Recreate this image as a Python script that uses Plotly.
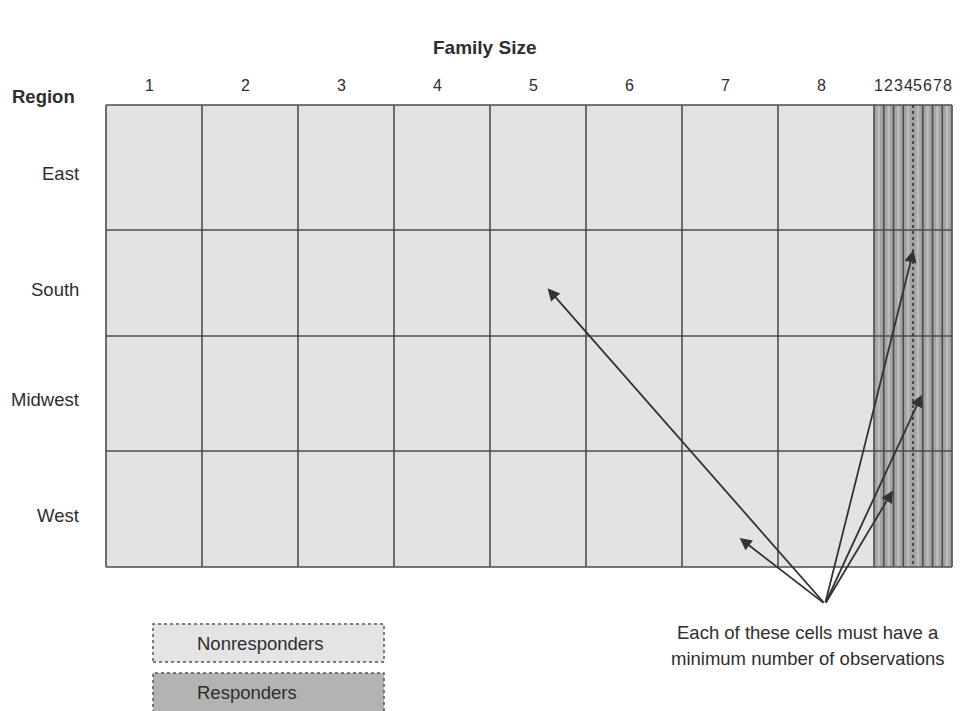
import plotly.graph_objects as go

# ---------------- data ----------------
regions = ["East", "South", "Midwest", "West"]
family_sizes = [1, 2, 3, 4, 5, 6, 7, 8]
groups = ["Nonresponders", "Responders"]
# cells that the note points at: (region, group, family size)
arrow_targets = [
    ("South", "Nonresponders", 5),
    ("West", "Nonresponders", 7),
    ("South", "Responders", 5),
    ("Midwest", "Responders", 5),
    ("West", "Responders", 2),
]
note_lines = ["Each of these cells must have a", "minimum number of observations"]

# ---------------- layout constants ----------------
W, H = 963, 711
PX = 96.0                 # pixels per nonresponder column
GRID_L, GRID_T = 106, 105 # grid origin in pixels
RESP_W = 0.1016           # width of a responder column (in column units)
ROW_EDGES = [0, 125, 231, 346, 462]   # row boundaries (vertical units)
TIP_OFFSETS = [(0.60, 0.55), (0.60, 0.75), (0.05, 0.19), (0.90, 0.51), (0.95, 0.34)]
ARROW_ORIGIN = (7.49, 499)
FONT = "Liberation Sans, Arial, sans-serif"
TXT = "#2e2e2e"
LINE = "#4d4d4d"
FS = 18.5

n = len(family_sizes)
x_edges = [float(i) for i in range(n + 1)] + [n + (i + 1) * RESP_W for i in range(n)]
col_centers_non = [i + 0.5 for i in range(n)]
col_centers_resp = [n + (i + 0.5) * RESP_W for i in range(n)]

z = [[0] * n + [1] * n for _ in regions]

fig = go.Figure()
fig.add_trace(go.Heatmap(
    x=x_edges, y=ROW_EDGES, z=z,
    colorscale=[[0, "#e3e3e3"], [1, "#a4a4a4"]], zmin=0, zmax=1,
    showscale=False, hoverinfo="skip",
))

# light stripes inside responder columns
sx, sy = [], []
for c in col_centers_resp:
    sx += [c, c, None]
    sy += [ROW_EDGES[0], ROW_EDGES[-1], None]
fig.add_trace(go.Scatter(x=sx, y=sy, mode="lines",
                         line=dict(color="#bcbcbc", width=2.5), hoverinfo="skip", showlegend=False))

# grid lines
vx, vy = [], []
dot_x = n + 4 * RESP_W
for e in x_edges:
    if abs(e - dot_x) < 1e-9:
        continue
    vx += [e, e, None]
    vy += [ROW_EDGES[0], ROW_EDGES[-1], None]
for r in ROW_EDGES:
    vx += [x_edges[0], x_edges[-1], None]
    vy += [r, r, None]
fig.add_trace(go.Scatter(x=vx, y=vy, mode="lines",
                         line=dict(color=LINE, width=1.6), hoverinfo="skip", showlegend=False))
fig.add_trace(go.Scatter(x=[dot_x, dot_x], y=[ROW_EDGES[0], ROW_EDGES[-1]], mode="lines",
                         line=dict(color="#333333", width=1.6, dash="dot"),
                         hoverinfo="skip", showlegend=False))

ann = []
# column labels
for c, s in zip(col_centers_non, family_sizes):
    ann.append(dict(x=c - 0.05, y=-20, text=str(s), showarrow=False,
                    xanchor="center", yanchor="middle",
                    font=dict(size=16, color=TXT, family=FONT)))
for c, s in zip(col_centers_resp, family_sizes):
    ann.append(dict(x=c, y=-20, text=str(s), showarrow=False,
                    xanchor="center", yanchor="middle",
                    font=dict(size=16, color=TXT, family=FONT)))
# row labels
for i, rg in enumerate(regions):
    yc = (ROW_EDGES[i] + ROW_EDGES[i + 1]) / 2 + 6
    ann.append(dict(x=(81 - GRID_L) / PX, y=yc, text=rg, showarrow=False,
                    xanchor="right", yanchor="middle",
                    font=dict(size=FS, color=TXT, family=FONT)))

# titles
ann.append(dict(x=485 / W, y=1 - 47 / H, xref="paper", yref="paper", text="<b>Family Size</b>",
                xanchor="center", yanchor="middle",
                showarrow=False, font=dict(size=19, color=TXT, family=FONT)))
ann.append(dict(x=10 / W, y=1 - 97 / H, xref="paper", yref="paper", text="<b>Region</b>",
                xanchor="left", yanchor="middle",
                showarrow=False, font=dict(size=18.5, color=TXT, family=FONT)))

# arrows
for (rg, grp, fs), (fx, fy) in zip(arrow_targets, TIP_OFFSETS):
    ri = regions.index(rg)
    ci = family_sizes.index(fs)
    if grp == "Nonresponders":
        x0, x1 = x_edges[ci], x_edges[ci + 1]
    else:
        x0, x1 = x_edges[n + ci], x_edges[n + ci + 1]
    tx = x0 + fx * (x1 - x0)
    ty = ROW_EDGES[ri] + fy * (ROW_EDGES[ri + 1] - ROW_EDGES[ri])
    ann.append(dict(x=tx, y=ty, ax=ARROW_ORIGIN[0], ay=ARROW_ORIGIN[1], axref="x", ayref="y",
                    text="", showarrow=True, arrowhead=2, arrowsize=1.35, arrowwidth=1.8,
                    arrowcolor="#333333", standoff=0, startstandoff=0))

# note text
for line, py in zip(note_lines, [632, 658]):
    ann.append(dict(x=808 / W, y=1 - py / H, xref="paper", yref="paper", text=line,
                    xanchor="center", yanchor="middle",
                    showarrow=False, font=dict(size=FS, color=TXT, family=FONT)))

# legend boxes
shapes = [
    dict(type="rect", xref="paper", yref="paper", x0=153 / W, x1=384 / W,
         y0=1 - 662 / H, y1=1 - 624 / H, fillcolor="#e4e4e4",
         line=dict(color="#555555", width=1.5, dash="dot")),
    dict(type="rect", xref="paper", yref="paper", x0=153 / W, x1=384 / W,
         y0=1 - 720 / H, y1=1 - 673 / H, fillcolor="#b3b3b3",
         line=dict(color="#555555", width=1.5, dash="dot")),
]
for label, py in zip(groups, [643, 692]):
    ann.append(dict(x=195 / W, y=1 - py / H, xref="paper", yref="paper", text=label,
                    xanchor="left", yanchor="middle",
                    showarrow=False, font=dict(size=FS, color=TXT, family=FONT)))

fig.update_layout(
    width=W, height=H, margin=dict(l=0, r=0, t=0, b=0),
    paper_bgcolor="white", plot_bgcolor="white",
    xaxis=dict(range=[-GRID_L / PX, (W - GRID_L) / PX], visible=False, fixedrange=True),
    yaxis=dict(range=[H - GRID_T, -GRID_T], visible=False, fixedrange=True),
    annotations=ann, shapes=shapes, showlegend=False,
)

fig.write_html("out.html", config={"displayModeBar": False},
               post_script="document.body.style.margin='0';document.body.style.overflow='hidden';")
